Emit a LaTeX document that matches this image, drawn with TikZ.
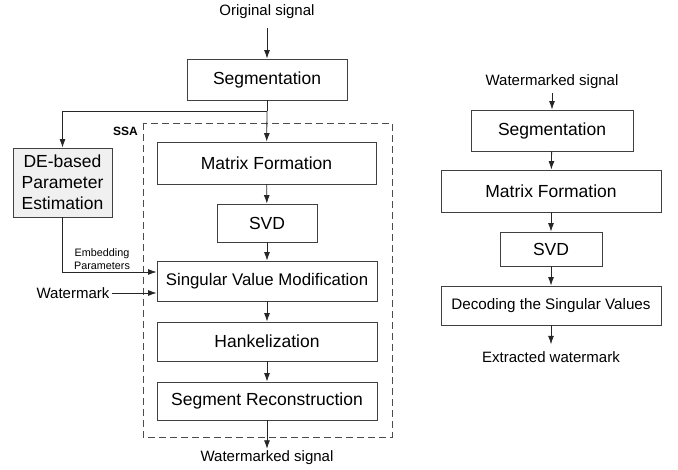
\documentclass[tikz,border=0pt]{standalone}
\usepackage{fontspec}
\setmainfont{Liberation Sans}
\usetikzlibrary{arrows.meta}

\begin{document}
\begin{tikzpicture}[x=1pt, y=-1pt,
    >={Latex[length=8.5pt,width=6pt]},
    line/.style={line width=0.8pt, black!85},
    blk/.style={draw=black!75, line width=0.9pt, inner sep=0pt, font=\fontsize{17.5}{21}\selectfont},
    lbl/.style={inner sep=0pt, font=\fontsize{15}{18}\selectfont}]
    \useasboundingbox (0,0) rectangle (678,470);

    % Embedding
    \node[lbl] (orig) at (267,12) {Original signal};
    \node[blk, minimum width=160pt, minimum height=41pt] (seg) at (267,79.5) {Segmentation};
    \node[blk, minimum width=219pt, minimum height=42pt] (mat) at (266.5,163) {Matrix Formation};
    \node[blk, minimum width=100pt, minimum height=38pt] (svd) at (267,223) {SVD};
    \node[blk, minimum width=220pt, minimum height=40pt] (svm) at (267,281) {\fontsize{16.8}{20}\selectfont Singular Value Modification};
    \node[blk, minimum width=220pt, minimum height=39pt] (hank) at (267,341.5) {Hankelization};
    \node[blk, minimum width=220pt, minimum height=38pt] (rec) at (267,401) {Segment Reconstruction};
    \node[lbl] (wsig) at (267,458) {Watermarked signal};

    % SSA block
    \draw[dashed, dash pattern=on 7pt off 4pt, line width=0.8pt, black!70] (143,123) rectangle (392,437);
    \node[inner sep=0pt, anchor=east, font=\fontsize{12}{14}\selectfont\bfseries] (ssa) at (138,131) {SSA};

    % Parameter estimation
    \node[blk, fill=gray!12, align=center, minimum width=99pt, minimum height=69pt] (de) at (62.5,182.5)
        {DE-based\\Parameter\\Estimation};
    \node[inner sep=0pt, align=center, font=\fontsize{10.8}{13}\selectfont] (emb) at (102,259.5) {Embedding\\Parameters};
    \node[lbl] (wm) at (73,293) {Watermark};
    \coordinate (split) at (267,111);
    \coordinate (embin) at ([yshift=9pt]svm.west);

    \draw[line, ->, shorten <=9pt] (orig) -- (seg);
    \draw[line] (seg) -- (split);
    \draw[line, ->] (split) -- (mat);
    \draw[line, ->] (split) -| (de);
    \draw[line, ->] (mat) -- (svd);
    \draw[line, ->] (svd) -- (svm);
    \draw[line, ->] (de) |- (embin);
    \draw[line, ->] (wm.east) ++(2pt,0) -- (wm.east -| svm.west);
    \draw[line, ->] (svm) -- (hank);
    \draw[line, ->] (hank) -- (rec);
    \draw[line, ->, shorten >=2pt] (rec) -- (wsig);

    % Extraction
    \node[lbl] (wsig2) at (552,82) {Watermarked signal};
    \node[blk, minimum width=162pt, minimum height=41pt] (seg2) at (552,130.5) {Segmentation};
    \node[blk, minimum width=220pt, minimum height=42pt] (mat2) at (551,191) {Matrix Formation};
    \node[blk, minimum width=102pt, minimum height=34pt] (svd2) at (551,249) {SVD};
    \node[blk, minimum width=220pt, minimum height=39pt, font=\fontsize{15.2}{18}\selectfont] (dec) at (551,305.5) {Decoding the Singular Values};
    \node[lbl] (ext) at (551,357) {Extracted watermark};

    \draw[line, ->, shorten <=4pt] (wsig2) -- (seg2);
    \draw[line, ->] (seg2) -- (mat2);
    \draw[line, ->] (mat2) -- (svd2);
    \draw[line, ->] (svd2) -- (dec);
    \draw[line, ->, shorten >=7pt] (dec) -- (ext);
\end{tikzpicture}
\end{document}
